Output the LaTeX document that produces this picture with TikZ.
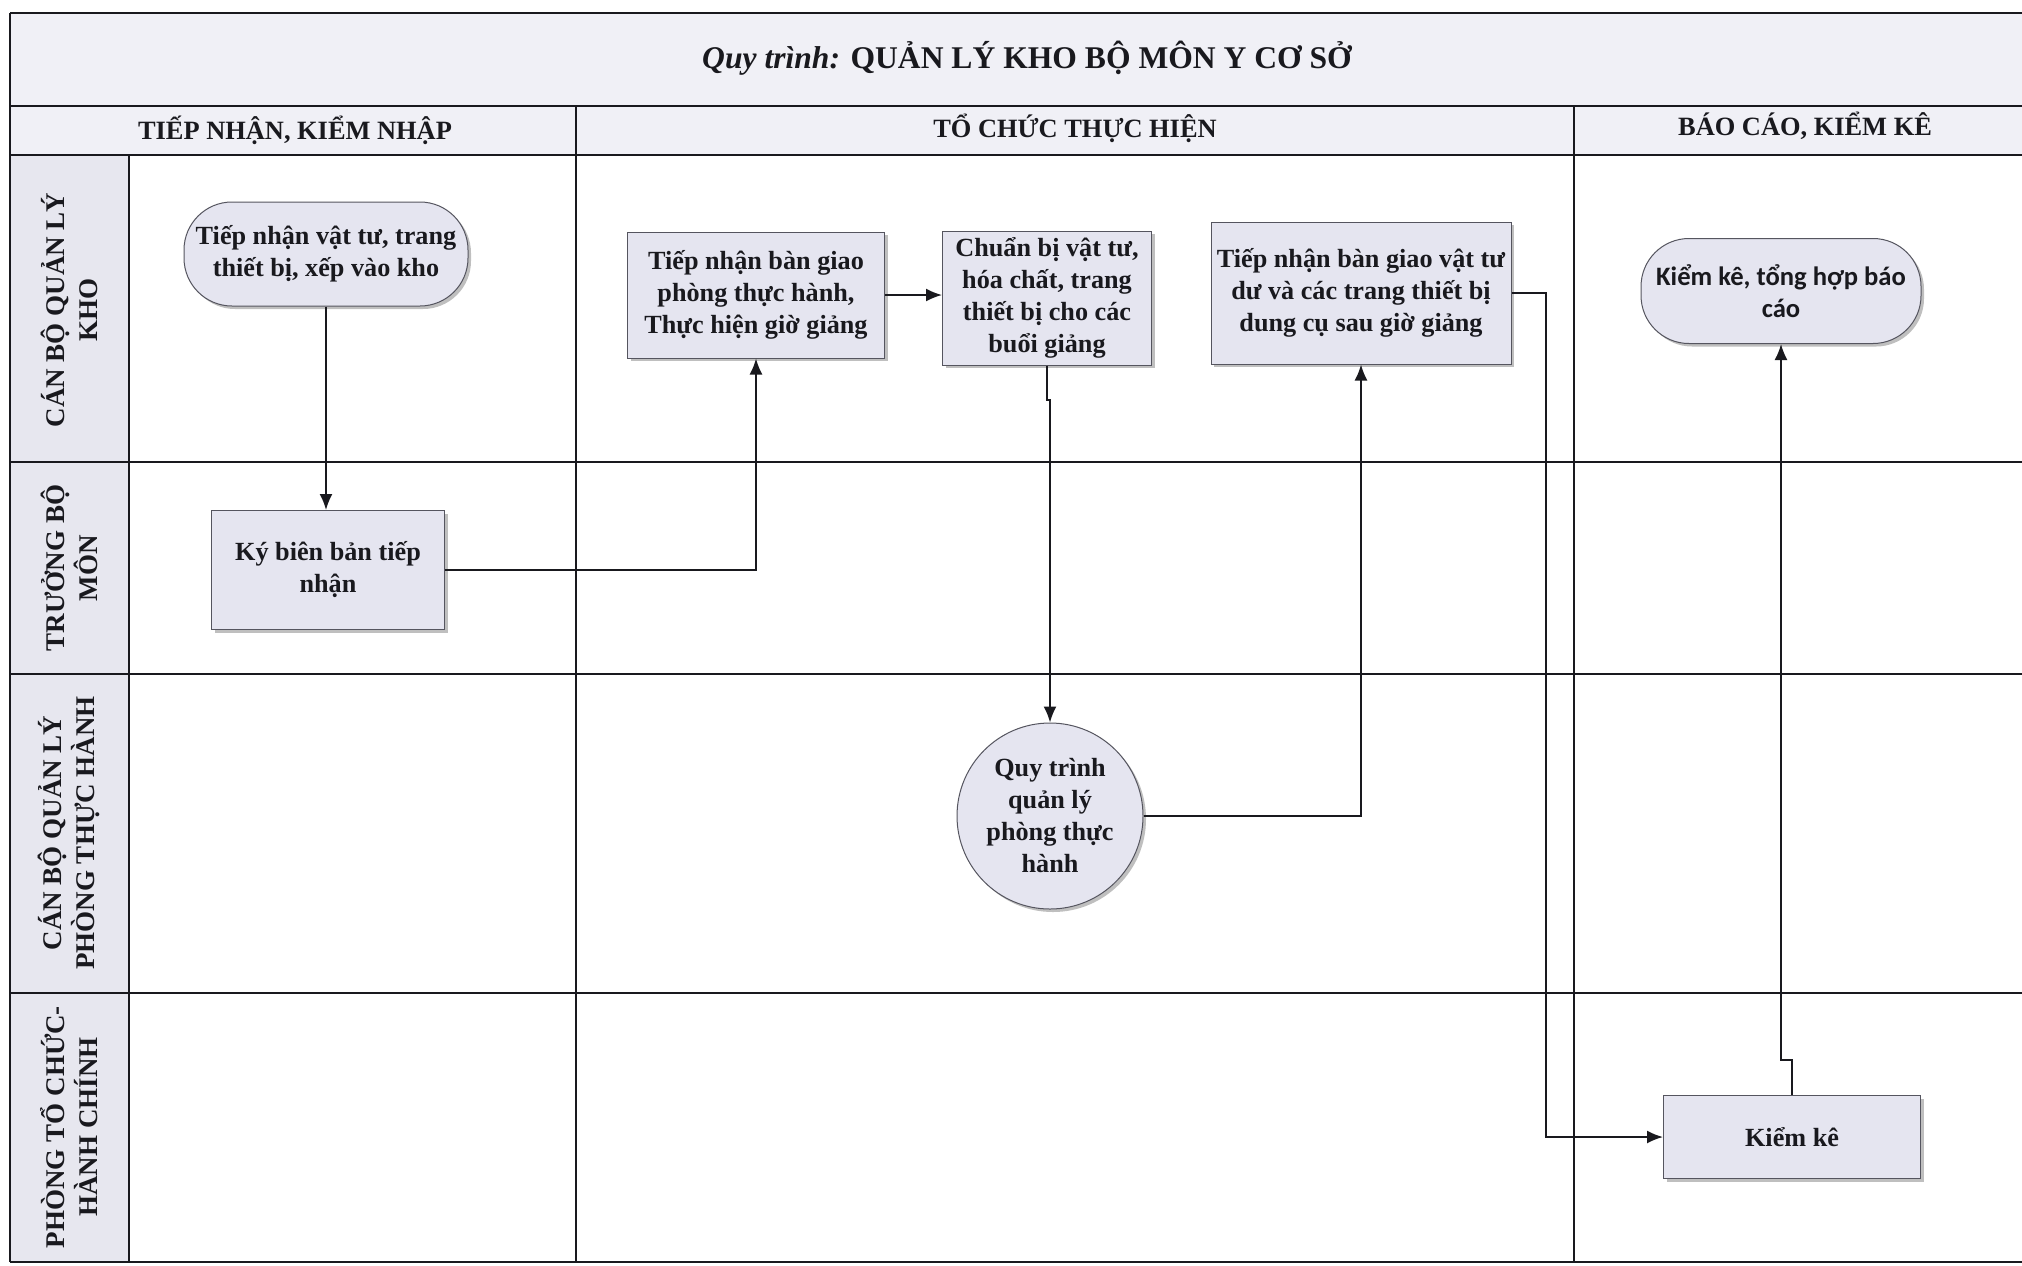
\documentclass[tikz,border=0pt]{standalone}
\usepackage{fontspec}
\setmainfont{Liberation Serif}
\newfontfamily\carlito{Carlito}
\usetikzlibrary{arrows.meta,shadows,calc}
\definecolor{nodefill}{RGB}{229,229,240}
\definecolor{bandfill}{RGB}{240,240,246}
\definecolor{lanefill}{RGB}{231,231,239}
\definecolor{nodeline}{RGB}{85,85,95}
\definecolor{ink}{RGB}{25,25,30}
\begin{document}
\begin{tikzpicture}[x=0.5pt,y=-0.5pt,
  frame/.style={draw=ink, line width=1.1pt},
  txt/.style={font=\bfseries\fontsize{13.1}{16}\selectfont, text=ink, align=center},
  shad/.style={drop shadow={shadow xshift=1.5pt, shadow yshift=-1.5pt, fill=black!50, opacity=0.5}},
  box/.style={txt, draw=nodeline, line width=0.5pt, fill=nodefill, inner sep=2pt, shad},
  term/.style={box, rounded corners=24pt},
  circ/.style={box, circle, inner sep=0pt},
  hdr/.style={font=\bfseries\fontsize{13.2}{15}\selectfont, text=ink, align=center},
  lane/.style={font=\bfseries\fontsize{13.5}{16.5}\selectfont, text=ink, align=center, rotate=90},
  conn/.style={draw=ink, line width=0.9pt, -{Latex[length=8pt,width=6.5pt]}}
]
\fill[white] (0,0) rectangle (2022,1265);
\useasboundingbox (0,0) rectangle (2022,1265);
% bands
\fill[bandfill] (10,13) rectangle (2022,155);
\fill[lanefill] (10,155) rectangle (129,1262);
% grid
\draw[frame] (10,13) -- (2022,13);
\draw[frame] (10,13) -- (10,1262);
\draw[frame] (10,1262) -- (2022,1262);
\draw[frame] (10,106) -- (2022,106);
\draw[frame] (10,155) -- (2022,155);
\draw[frame] (129,155) -- (129,1262);
\draw[frame] (576,106) -- (576,1262);
\draw[frame] (1574,106) -- (1574,1262);
\draw[frame] (10,462) -- (2022,462);
\draw[frame] (10,674) -- (2022,674);
\draw[frame] (10,993) -- (2022,993);
% title and headers
\node[font=\bfseries\fontsize{15.8}{19}\selectfont, text=ink] (title) at (1027,58) {\textit{Quy trình:} QUẢN LÝ KHO BỘ MÔN Y CƠ SỞ};
\node[hdr] (h1) at (295,130) {TIẾP NHẬN, KIỂM NHẬP};
\node[hdr] (h2) at (1075,128) {TỔ CHỨC THỰC HIỆN};
\node[hdr] (h3) at (1805,126) {BÁO CÁO, KIỂM KÊ};
% lanes
\node[lane] (l1) at (69,310) {CÁN BỘ QUẢN LÝ\\KHO};
\node[lane] (l2) at (69,568) {TRƯỞNG BỘ\\MÔN};
\node[lane] (l3) at (69,833) {CÁN BỘ QUẢN LÝ\\PHÒNG THỰC HÀNH};
\node[lane] (l4) at (69,1127) {PHÒNG TỔ CHỨC-\\HÀNH CHÍNH};
% nodes
\node[term, minimum width=142pt, minimum height=52pt] (A) at (326,254) {Tiếp nhận vật tư, trang\\thiết bị, xếp vào kho};
\node[box, minimum width=116.5pt, minimum height=59.5pt] (B) at (328,570) {Ký biên bản tiếp\\nhận};
\node[box, minimum width=128.5pt, minimum height=63pt] (C) at (756,295) {Tiếp nhận bàn giao\\phòng thực hành,\\Thực hiện giờ giảng};
\node[box, minimum width=104.5pt, minimum height=67pt] (D) at (1047,298) {Chuẩn bị vật tư,\\hóa chất, trang\\thiết bị cho các\\buổi giảng};
\node[box, minimum width=150pt, minimum height=71pt] (E) at (1361,293) {Tiếp nhận bàn giao vật tư\\dư và các trang thiết bị\\dung cụ sau giờ giảng};
\node[circ, minimum size=93pt] (F) at (1050,816) {Quy trình\\quản lý\\phòng thực\\hành};
\node[term, minimum width=140pt, minimum height=52.5pt, font=\carlito\bfseries\fontsize{13.3}{16}\selectfont] (G) at (1781,291) {Kiểm kê, tổng hợp báo\\cáo};
\node[box, minimum width=128.5pt, minimum height=41.5pt] (H) at (1792,1137) {Kiểm kê};
% helper coordinates
\coordinate (j1) at (1047,400);
\coordinate (j2) at (1050,400);
\coordinate (e1) at (1546,1137);
\coordinate (k1) at (1792,1060);
\coordinate (k2) at (1781,1060);
% connectors
\draw[conn] (A.south) -- (A.south |- B.north);
\draw[conn] (B.east) -| (C.south);
\draw[conn] (C.east) -- (C.east -| D.west);
\draw[conn] (D.south) -- (j1) -- (j2) -- (F.north);
\draw[conn] (F.east) -| (E.south);
\draw[conn] (E.east) -| (e1) -- (H.west);
\draw[conn] (H.north) -- (k1) -- (k2) -- (G.south);
\end{tikzpicture}
\end{document}
